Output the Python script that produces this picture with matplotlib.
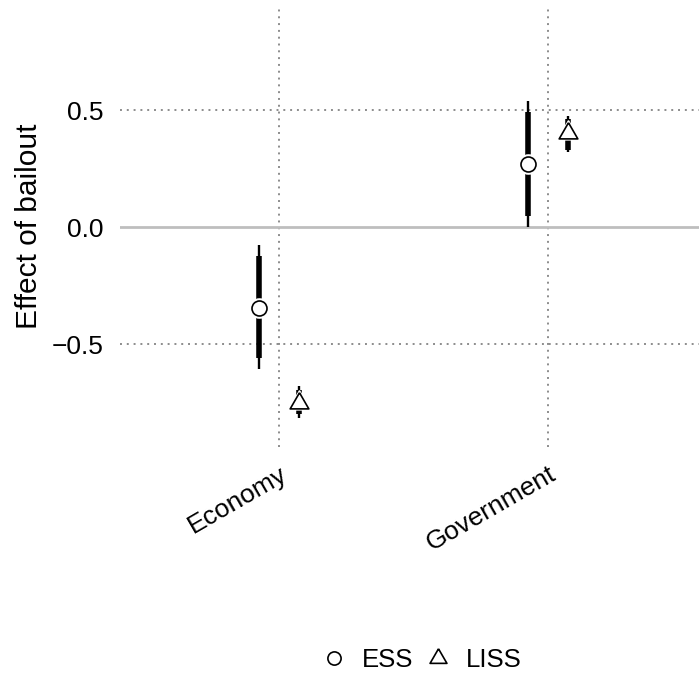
import numpy as np
import matplotlib
matplotlib.use("Agg")
import matplotlib.pyplot as plt
from matplotlib.lines import Line2D

plt.rcParams['font.family'] = ['Liberation Sans', 'DejaVu Sans']

# values
categories = ["Economy", "Government"]
ess_est = [-0.346, 0.270]
ess_lo90 = [-0.561, 0.046]
ess_hi90 = [-0.125, 0.490]
ess_lo95 = [-0.608, 0.0]
ess_hi95 = [-0.078, 0.540]

liss_est = [-0.750, 0.400]
liss_lo90 = [-0.800, 0.330]
liss_hi90 = [-0.695, 0.462]
liss_lo95 = [-0.816, 0.319]
liss_hi95 = [-0.678, 0.476]

yticks = [-0.5, 0.0, 0.5]
ytick_labels = ["\u22120.5", "0.0", "0.5"]

# equilateral triangle like ggplot shape 2
tri = [(0, 0.577), (-0.5, -0.289), (0.5, -0.289), (0, 0.577)]

fig = plt.figure(figsize=(6.99, 6.74), dpi=100)
ax = fig.add_axes([120 / 699, 1 - 447 / 674, 1 - 120 / 699, 442 / 674])

x = np.arange(len(categories))
dodge = 0.075

# grid
grid_kw = dict(color='#8c8c8c', lw=1.4, linestyle=(0, (1, 2.5)), zorder=0)
for xi in x:
    ax.axvline(xi, **grid_kw)
for yv in [-0.5, 0.5]:
    ax.axhline(yv, **grid_kw)
ax.axhline(0, color='#bebebe', lw=2.0, zorder=1)

series = [
    (x - dodge, ess_est, ess_lo90, ess_hi90, ess_lo95, ess_hi95, 'o', 10.8),
    (x + dodge, liss_est, liss_lo90, liss_hi90, liss_lo95, liss_hi95, tri, 15.5),
]
for xs, est, lo90, hi90, lo95, hi95, mk, ms in series:
    ax.vlines(xs, lo95, hi95, color='black', lw=1.7, zorder=2)
    ax.vlines(xs, lo90, hi90, color='black', lw=4.0, zorder=3)
    ax.plot(xs, est, linestyle='none', marker=mk, markersize=ms + 3,
            markerfacecolor='white', markeredgecolor='white', zorder=4)
    ax.plot(xs, est, linestyle='none', marker=mk, markersize=ms,
            markerfacecolor='white', markeredgecolor='black',
            markeredgewidth=1.2, zorder=5)

ax.set_xlim(-159 / 269, 1 + 151 / 269)
ax.set_ylim(-0.940, 0.949)
ax.set_xticks(x)
ax.set_xticklabels(categories, rotation=30, ha='right', va='top',
                   rotation_mode='anchor', fontsize=19, color='black')
ax.set_yticks(yticks)
ax.set_yticklabels(ytick_labels, fontsize=19, color='black')
ax.tick_params(axis='both', length=0)
ax.tick_params(axis='x', pad=11)
ax.tick_params(axis='y', pad=12)
for s in ax.spines.values():
    s.set_visible(False)
ax.set_facecolor('none')
ax.set_ylabel("Effect of bailout", fontsize=21.5, labelpad=6)

handles = [
    Line2D([], [], linestyle='none', marker='o', markersize=9.5,
           markerfacecolor='white', markeredgecolor='black', markeredgewidth=1.2),
    Line2D([], [], linestyle='none', marker=tri, markersize=14,
           markerfacecolor='white', markeredgecolor='black', markeredgewidth=1.2),
]
fig.legend(handles, ["ESS", "LISS"], loc='center', bbox_to_anchor=(0.603, 0.021),
           ncol=2, frameon=False, fontsize=18.5, handletextpad=0.6,
           columnspacing=0.45, handlelength=1.0)

fig.savefig("out.png", dpi=100)
